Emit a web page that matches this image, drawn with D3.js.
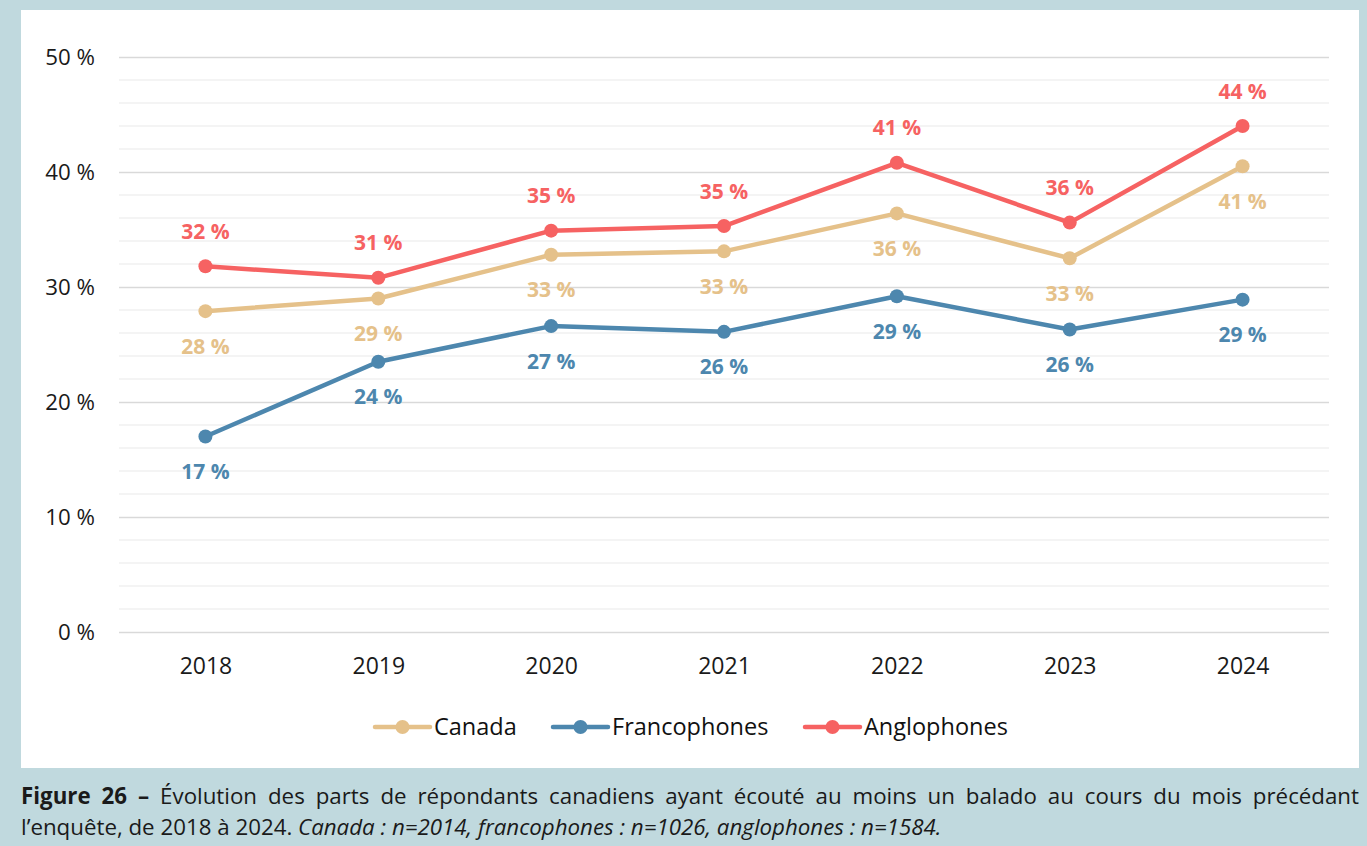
<!DOCTYPE html>
<html><head><meta charset="utf-8">
<script src="https://cdn.jsdelivr.net/npm/d3@7"></script>
<style>
html,body{margin:0;padding:0;background:#c0d9de;width:1367px;height:846px;overflow:hidden;font-family:"Open Sans",sans-serif;}
#panel{position:absolute;left:21px;top:10px;width:1338px;height:758px;background:#fff;}
#cap{position:absolute;left:21px;top:780px;width:1338px;font-size:22.3px;line-height:31px;color:#1a1a1a;text-align:justify;}
svg{position:absolute;left:0;top:0;}
</style></head><body>
<div id="panel"></div>
<svg id="chart" width="1367" height="846"></svg>
<div id="cap"><b>Figure 26 –</b> Évolution des parts de répondants canadiens ayant écouté au moins un balado au cours du mois précédant l’enquête, de 2018 à 2024. <i>Canada : n=2014, francophones : n=1026, anglophones : n=1584.</i></div>
<script>
const years = ["2018","2019","2020","2021","2022","2023","2024"];
const canada = [27.9, 29.0, 32.8, 33.1, 36.4, 32.5, 40.5];
const francophones = [17.0, 23.5, 26.6, 26.1, 29.2, 26.3, 28.9];
const anglophones = [31.8, 30.8, 34.9, 35.3, 40.8, 35.6, 44.0];
const canadaLabels = ["28","29","33","33","36","33","41"];
const francoLabels = ["17","24","27","26","29","26","29"];
const angloLabels = ["32","31","35","35","41","36","44"];
const yTicks = [0,10,20,30,40,50];
const seriesNames = ["Canada","Francophones","Anglophones"];
const colors = ["#e5c18a","#4d87ae","#f66262"];

const svg = d3.select("#chart");
const x = d3.scalePoint().domain(years).range([119,1329]).padding(0.5);
const y = d3.scaleLinear().domain([0,50]).range([632,57]);

// minor gridlines
const minor = d3.range(0,51,2).filter(v=>v%10!==0);
svg.append("g").selectAll("line").data(minor).join("line")
  .attr("x1",119).attr("x2",1329).attr("y1",d=>y(d)).attr("y2",d=>y(d))
  .attr("stroke","#f0f0f0").attr("stroke-width",1.5);
// major axis
const yAxis = d3.axisLeft(y).tickValues(yTicks).tickSize(-(1329-119)).tickPadding(24)
  .tickFormat(d=>d+" %");
const gy = svg.append("g").attr("transform","translate(119,0)").call(yAxis);
gy.attr("font-size",null).attr("font-family",null);
gy.select(".domain").remove();
gy.selectAll(".tick line").attr("stroke","#d9d9d9").attr("stroke-width",1.5);
gy.selectAll(".tick text").style("font-size","22.3px").attr("fill","#1a1a1a").style("font-family","Open Sans");

const xAxis = d3.axisBottom(x).tickSize(0).tickPadding(0);
const gx = svg.append("g").attr("transform","translate(0,632)").call(xAxis);
gx.attr("font-size",null).attr("font-family",null);
gx.select(".domain").remove();
gx.selectAll(".tick text").style("font-size","23px").attr("fill","#1a1a1a").style("font-family","Open Sans").attr("dy","42px");

const series = [
  {name:"Canada", vals:canada, labels:canadaLabels, color:colors[0], pos:[1,1,1,1,1,1,1]},
  {name:"Francophones", vals:francophones, labels:francoLabels, color:colors[1], pos:[1,1,1,1,1,1,1]},
  {name:"Anglophones", vals:anglophones, labels:angloLabels, color:colors[2], pos:[-1,-1,-1,-1,-1,-1,-1]}
];
const line = d3.line().x((d,i)=>x(years[i])).y(d=>y(d));
series.forEach(s=>{
  const g = svg.append("g");
  g.append("path").attr("d",line(s.vals)).attr("fill","none").attr("stroke",s.color).attr("stroke-width",4.5).attr("stroke-linejoin","round");
  g.selectAll("circle").data(s.vals).join("circle").attr("cx",(d,i)=>x(years[i])).attr("cy",d=>y(d)).attr("r",7).attr("fill",s.color);
  g.selectAll("text").data(s.vals).join("text")
   .attr("x",(d,i)=>x(years[i])).attr("y",(d,i)=>y(d)+s.pos[i]*35)
   .attr("dy","0.36em").attr("text-anchor","middle")
   .style("font-size","21px").attr("font-weight","bold").style("font-family","Open Sans")
   .attr("fill",s.color).text((d,i)=>s.labels[i]+" %");
});

// legend
const legX = [375,553,805];
const lg = svg.append("g");
seriesNames.forEach((n,i)=>{
  lg.append("line").attr("x1",legX[i]).attr("x2",legX[i]+55).attr("y1",727).attr("y2",727)
    .attr("stroke",colors[i]).attr("stroke-width",4.5).attr("stroke-linecap","round");
  lg.append("circle").attr("cx",legX[i]+27.5).attr("cy",727).attr("r",7).attr("fill",colors[i]);
  lg.append("text").attr("x",legX[i]+59).attr("y",727).attr("dy","0.35em")
    .style("font-size","23.5px").style("font-family","Open Sans").attr("fill","#111").text(n);
});
</script>
</body></html>
